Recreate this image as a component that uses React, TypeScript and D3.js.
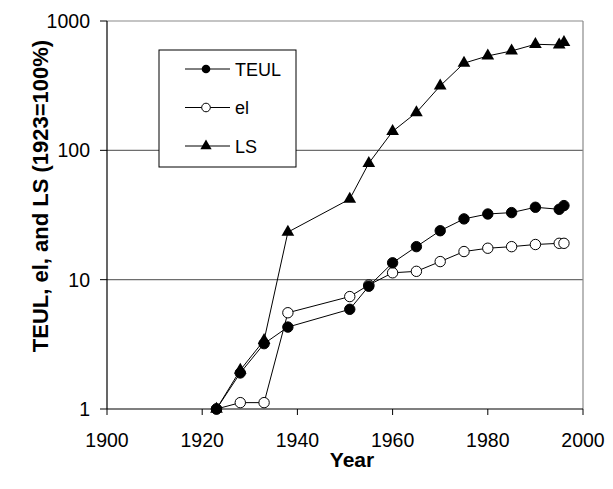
import React from "react";
import * as d3 from "d3";

const years = [1923, 1928, 1933, 1938, 1951, 1955, 1960, 1965, 1970, 1975, 1980, 1985, 1990, 1995, 1996];
const teul = [1.0, 1.9, 3.2, 4.3, 5.9, 8.9, 13.5, 18, 23.9, 29.5, 32.2, 33, 36.3, 35, 37.4];
const el = [1.0, 1.12, 1.12, 5.55, 7.4, 9.1, 11.3, 11.6, 13.8, 16.5, 17.5, 18, 18.7, 19.1, 19.1];
const ls = [1.0, 2.0, 3.4, 23.3, 42, 79.5, 140, 196, 315, 472, 537, 587, 661, 653, 685];

const xTicks = [1900, 1920, 1940, 1960, 1980, 2000];
const yTicks = [1, 10, 100, 1000];

const W = 613;
const H = 489;
const font = "'Liberation Sans', Arial, Helvetica, sans-serif";

const App = () => {
  const x = d3.scaleLinear().domain([1900, 2000]).range([107, 583]);
  const y = d3.scaleLog().domain([1, 1000]).range([409, 21]);

  const line = d3.line<number>()
    .x((d, i) => x(years[i]))
    .y(d => y(d));

  const tri = d3.symbol().type(d3.symbolTriangle).size(70)();
  const triSmall = d3.symbol().type(d3.symbolTriangle).size(55)();

  const legend = [
    { name: "TEUL", kind: "filled" },
    { name: "el", kind: "open" },
    { name: "LS", kind: "tri" },
  ];

  return (
    <svg width={W} height={H} style={{ position: "absolute", left: 0, top: 0 }} fontFamily={font}>
      <rect width={W} height={H} fill="#fff" />
      {/* grid + frame */}
      {yTicks.slice(1, 3).map(t => (
        <line key={t} x1={x(1900)} x2={x(2000)} y1={y(t)} y2={y(t)} stroke="#6e6e6e" strokeWidth={1.2} />
      ))}
      <line x1={x(1900)} x2={x(2000)} y1={y(1000)} y2={y(1000)} stroke="#8a8a8a" strokeWidth={1.2} />
      <line x1={x(2000)} x2={x(2000)} y1={y(1000)} y2={y(1)} stroke="#8a8a8a" strokeWidth={1.2} />
      {/* axes */}
      <line x1={x(1900)} x2={x(2000)} y1={y(1)} y2={y(1)} stroke="#000" strokeWidth={1.2} />
      <line x1={x(1900)} x2={x(1900)} y1={y(1000)} y2={y(1)} stroke="#000" strokeWidth={1.2} />
      {xTicks.map(t => (
        <g key={t}>
          <line x1={x(t)} x2={x(t)} y1={y(1)} y2={y(1) + 6} stroke="#000" />
          <text x={x(t)} y={447} textAnchor="middle" fontSize={19.5}>{t}</text>
        </g>
      ))}
      {yTicks.map(t => (
        <g key={t}>
          <line x1={x(1900) - 7} x2={x(1900)} y1={y(t)} y2={y(t)} stroke="#000" />
          <text x={90} y={y(t) + 7} textAnchor="end" fontSize={19.5}>{t}</text>
        </g>
      ))}
      <text x={352} y={467} textAnchor="middle" fontSize={21} fontWeight="bold">Year</text>
      <text transform={`translate(48,196) rotate(-90)`} textAnchor="middle" fontSize={22} fontWeight="bold">
        TEUL, el, and LS (1923=100%)
      </text>

      {/* series */}
      <path d={line(ls) || ""} fill="none" stroke="#000" strokeWidth={1} />
      <path d={line(el) || ""} fill="none" stroke="#000" strokeWidth={1} />
      <path d={line(teul) || ""} fill="none" stroke="#000" strokeWidth={1} />
      {el.map((v, i) => (
        <circle key={"e" + i} cx={x(years[i])} cy={y(v)} r={5.2} fill="#fff" stroke="#000" strokeWidth={1} />
      ))}
      {teul.map((v, i) => (
        <circle key={"t" + i} cx={x(years[i])} cy={y(v)} r={5.2} fill="#000" stroke="#000" strokeWidth={1} />
      ))}
      {ls.map((v, i) => (
        <path key={"l" + i} d={tri || ""} transform={`translate(${x(years[i])},${y(v)})`} fill="#000" />
      ))}

      {/* legend */}
      <rect x={159} y={50} width={137} height={117} fill="#fff" stroke="#000" strokeWidth={1} />
      {legend.map((d, i) => {
        const cy = 69 + i * 38.5;
        return (
          <g key={d.name}>
            <line x1={185} x2={230} y1={cy} y2={cy} stroke="#000" />
            {d.kind === "filled" && <circle cx={206} cy={cy} r={4.3} fill="#000" />}
            {d.kind === "open" && <circle cx={206} cy={cy} r={4.3} fill="#fff" stroke="#000" />}
            {d.kind === "tri" && <path d={triSmall || ""} transform={`translate(206,${cy})`} fill="#000" />}
            <text x={235} y={cy + 6.5} fontSize={18}>{d.name}</text>
          </g>
        );
      })}
    </svg>
  );
};

export default App;
